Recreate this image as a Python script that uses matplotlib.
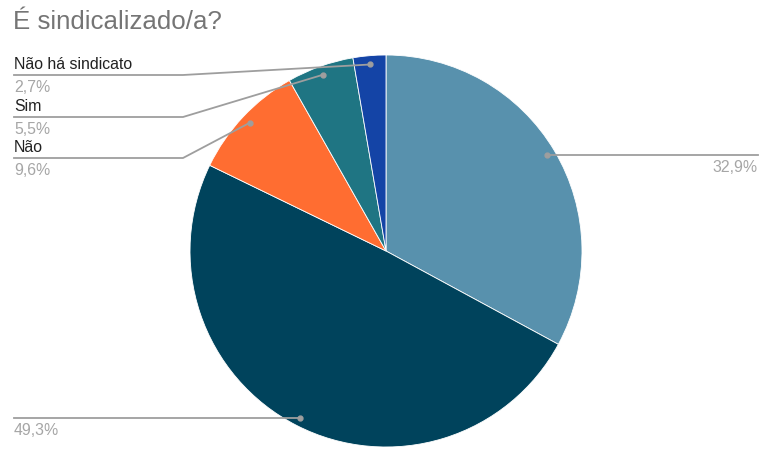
import matplotlib.pyplot as plt
import numpy as np

plt.rcParams['font.family'] = ['Liberation Sans', 'DejaVu Sans']

# survey answers, clockwise from the top
names = ['', '', 'Não', 'Sim', 'Não há sindicato']
shares = [32.9, 49.3, 9.6, 5.5, 2.7]
colors = ['#5891ad', '#00435c', '#ff6d31', '#1f7583', '#1444a6']

W, H = 761, 449
cx, cy, R = 386, H - 251, 196

fig = plt.figure(figsize=(W / 100, H / 100), dpi=100)
ax = fig.add_axes([0, 0, 1, 1])

wedges, _ = ax.pie(shares, colors=colors, startangle=90, counterclock=False,
                   center=(cx, cy), radius=R, frame=True,
                   wedgeprops=dict(edgecolor='white', linewidth=0.6))
ax.set_xlim(0, W)
ax.set_ylim(0, H)
ax.set_aspect('equal')
ax.axis('off')

line_c = '#9e9e9e'
name_c = '#222222'
pct_c = '#a6a6a6'
fs = 11.4

# left column labels stacked at the top
left_rows = {4: 75, 3: 117, 2: 158}
for i, w in enumerate(wedges):
    mid = np.deg2rad((w.theta1 + w.theta2) / 2)
    dx = cx + 0.955 * R * np.cos(mid)
    dy = cy + 0.955 * R * np.sin(mid)
    ax.plot(dx, dy, 'o', color=line_c, ms=3.5, zorder=5)
    pct = f'{shares[i]:.1f}%'.replace('.', ',')
    if i in left_rows:
        ly = H - left_rows[i]
        ax.plot([14, 183, dx], [ly, ly, dy], color=line_c, lw=1.3, zorder=4)
        ax.text(14, ly + 3, names[i], color=name_c, fontsize=fs, va='bottom', ha='left')
        ax.text(14, ly - 5, pct, color=pct_c, fontsize=fs, va='top', ha='left')
    elif dx > cx:
        ax.plot([dx, 758], [dy, dy], color=line_c, lw=1.3, zorder=4)
        ax.text(758, dy - 5, pct, color=pct_c, fontsize=fs, va='top', ha='right')
    else:
        ax.plot([dx, 14], [dy, dy], color=line_c, lw=1.3, zorder=4)
        ax.text(14, dy - 5, pct, color=pct_c, fontsize=fs, va='top', ha='left')

ax.text(13, H - 22, 'É sindicalizado/a?', color='#757575', fontsize=18.6,
        va='center', ha='left')

fig.savefig('out.png', dpi=100, facecolor='white')
